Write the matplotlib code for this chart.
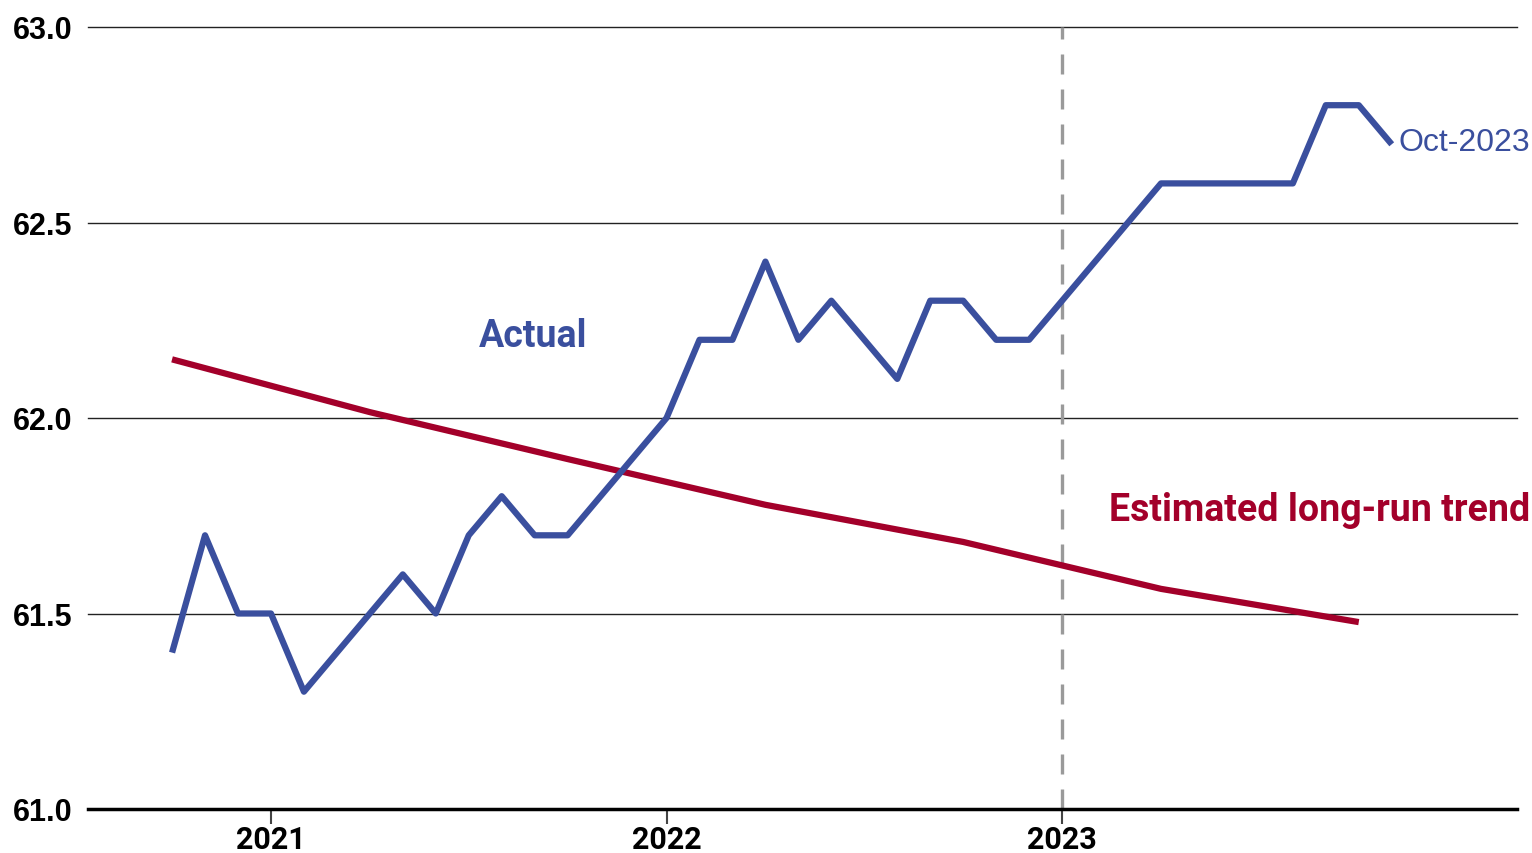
import numpy as np
import matplotlib
matplotlib.use("Agg")
import matplotlib.pyplot as plt

# monthly series, index 0 = first month shown
actual = [61.4, 61.7, 61.5, 61.5, 61.3, 61.4, 61.5, 61.6, 61.5, 61.7,
          61.8, 61.7, 61.7, 61.8, 61.9, 62.0, 62.2, 62.2, 62.4, 62.2,
          62.3, 62.2, 62.1, 62.3, 62.3, 62.2, 62.2, 62.3, 62.4, 62.5,
          62.6, 62.6, 62.6, 62.6, 62.6, 62.8, 62.8, 62.7]
months = np.arange(len(actual))

# long-run trend, semiannual points
trend_x = [0, 6, 12, 18, 24, 30, 36]
trend = [62.15, 62.015, 61.895, 61.778, 61.683, 61.563, 61.478]

year_ticks = [3, 15, 27]
year_labels = ["2021", "2022", "2023"]
y_ticks = [61.0, 61.5, 62.0, 62.5, 63.0]

blue = "#3a4f9e"
red = "#a3002a"

fig = plt.figure(figsize=(15.32, 8.54), dpi=100)
ax = fig.add_axes([88/1532, 1-810/854, (1517-88)/1532, (810-28)/854])

for v in y_ticks[1:]:
    ax.axhline(v, color="#222222", lw=1.0, zorder=1, clip_on=False)

ax.axvline(year_ticks[2], color="#9a9a9a", lw=2.4, dashes=(6, 4.5), zorder=2)

ax.plot(trend_x, trend, color=red, lw=4.5, zorder=3, solid_capstyle="butt")
ax.plot(months, actual, color=blue, lw=4.5, zorder=4, solid_capstyle="butt")

ax.text(10.95, 62.21, "Actual", color=blue, fontsize=27, fontweight="bold",
        family="Roboto", ha="center", va="center")
ax.text(41.2, 61.765, "Estimated long-run trend", color=red, fontsize=27,
        fontweight="bold", family="Roboto", ha="right", va="center")
ax.text(37.2, 62.706, "Oct-2023", color=blue, fontsize=23,
        family="Liberation Sans", ha="left", va="center")

ax.set_xlim(-2.55, 40.8)
ax.set_ylim(61.0, 63.0)

ax.set_yticks(y_ticks)
ax.set_yticklabels([f"{v:.1f}" for v in y_ticks], fontsize=22,
                   fontweight="bold", family="Liberation Sans")
ax.tick_params(axis="y", length=0, pad=11)

ax.set_xticks(year_ticks)
ax.set_xticklabels(year_labels, fontsize=22, fontweight="bold", family="Roboto")
ax.tick_params(axis="x", length=11, width=1.5, color="#444444", pad=0)

for s in ["left", "top", "right"]:
    ax.spines[s].set_visible(False)
ax.spines["bottom"].set_linewidth(2.5)
ax.spines["bottom"].set_color("black")
ax.spines["bottom"].set_zorder(5)

fig.savefig("out.png", dpi=100)
